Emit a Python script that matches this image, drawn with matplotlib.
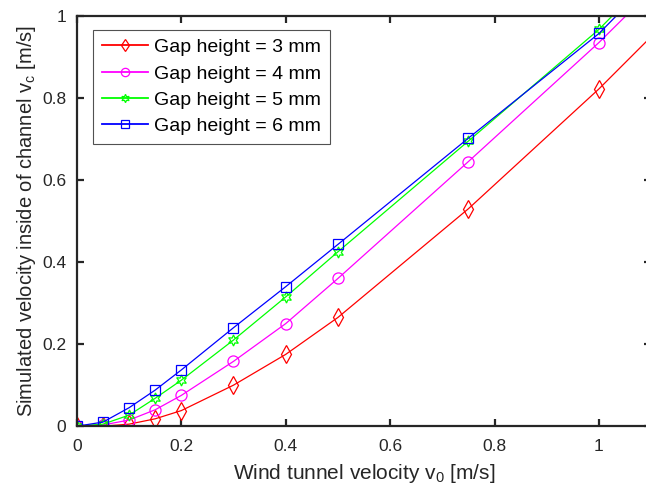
import numpy as np
import matplotlib
matplotlib.use("Agg")
import matplotlib.pyplot as plt

plt.rcParams['font.family'] = ['Liberation Sans', 'DejaVu Sans']

# wind tunnel velocity [m/s]
v0 = [0, 0.05, 0.1, 0.15, 0.2, 0.3, 0.4, 0.5, 0.75, 1.0, 1.25]

# simulated channel velocity [m/s] per gap height
gap3 = [0, 0.0, 0.005, 0.018, 0.038, 0.100, 0.175, 0.265, 0.530, 0.822, 1.14]
gap4 = [0, 0.003, 0.015, 0.040, 0.075, 0.158, 0.250, 0.360, 0.645, 0.935, 1.25]
gap5 = [0, 0.005, 0.027, 0.068, 0.112, 0.210, 0.315, 0.425, 0.695, 0.967, 1.29]
gap6 = [0, 0.010, 0.045, 0.088, 0.137, 0.240, 0.340, 0.443, 0.702, 0.957, 1.28]

labels = ['Gap height = 3 mm', 'Gap height = 4 mm',
          'Gap height = 5 mm', 'Gap height = 6 mm']
colors = ['#ff0000', '#ff00ff', '#00ff00', '#0000ff']
markers = ['d', 'o', (6, 1, 0), 's']
sizes = [9, 8, 8, 6.5]

fig = plt.figure(figsize=(6.46, 4.95), dpi=100)
ax = fig.add_axes([0.119, 0.139, 0.889, 0.829])

for y, lab, c, m, ms in zip([gap3, gap4, gap5, gap6], labels, colors, markers, sizes):
    ax.plot(v0, y, color=c, marker=m, markersize=ms, markerfacecolor='none',
            markeredgecolor=c, markeredgewidth=0.9, linewidth=0.9, label=lab)

ax.set_xlim(0, 1.1)
ax.set_ylim(0, 1)
ax.set_xticks([0, 0.2, 0.4, 0.6, 0.8, 1.0])
ax.set_xticklabels(['0', '0.2', '0.4', '0.6', '0.8', '1'])
ax.set_yticks([0, 0.2, 0.4, 0.6, 0.8, 1.0])
ax.set_yticklabels(['0', '0.2', '0.4', '0.6', '0.8', '1'])

dark = '#262626'
for s in ax.spines.values():
    s.set_color(dark)
    s.set_linewidth(1.6)
ax.tick_params(direction='in', length=5, width=1.6, colors=dark,
               labelsize=12.5, top=True, right=True, labelcolor=dark)
ax.tick_params(axis='x', pad=9)
ax.tick_params(axis='y', pad=7.5)

ax.set_xlabel('Wind tunnel velocity v$_\\mathregular{0}$ [m/s]', fontsize=15,
              color=dark, labelpad=6)
ax.set_ylabel('Simulated velocity inside of channel v$_\\mathregular{c}$ [m/s]',
              fontsize=14.5, color=dark, labelpad=3)

leg = ax.legend(loc='upper left', bbox_to_anchor=(0.028, 0.966), fontsize=14,
                frameon=True, fancybox=False, edgecolor=dark,
                handlelength=2.4, handletextpad=0.3, borderpad=0.45,
                labelspacing=0.45, borderaxespad=0)
leg.get_frame().set_linewidth(0.8)
for h in leg.legend_handles:
    h.set_markersize(6)
    h.set_linewidth(1.3)

fig.savefig('out.png', dpi=100)
